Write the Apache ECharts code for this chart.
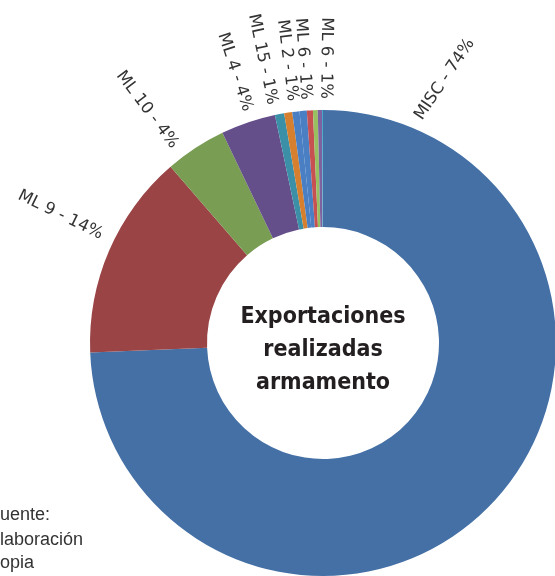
<!DOCTYPE html>
<html>
<head>
<meta charset="utf-8">
<script src="https://cdn.jsdelivr.net/npm/echarts@6/dist/echarts.min.js"></script>
<style>
  html, body { margin: 0; padding: 0; background: #fff; }
  #chart { width: 555px; height: 576px; }
</style>
</head>
<body>
<div id="chart"></div>
<script>
  // export shares by category (percent)
  const names = ['MISC', 'ML 9', 'ML 10', 'ML 4', 'ML 15', 'ML 2', 'ML 6', 'ML 6', 'ML 5', 'ML 8', 'ML 13', 'ML 22'];
  const values = [74.4, 14.3, 4.25, 3.8, 0.64, 0.56, 0.5, 0.5, 0.42, 0.33, 0.29, 0.07];
  const colors = ['#4470a6', '#9a4446', '#789d53', '#654f8a', '#3b90a8', '#d57f2f',
                  '#4a7fc4', '#c75050', '#98c061', '#7e62a0', '#45a8c8', '#b8c2cc'];
  const centerTitle = 'Exportaciones\nrealizadas\narmamento';
  const sourceLines = ['Fuente:', 'Elaboración', 'propia'];
  // characters of each source line that fall off the left edge
  const sourceCut = ['F', 'E', 'pr'];

  // donut geometry
  const cx = 323, cy = 343, rIn = 116, rOut = 233;
  // label placement: angle clockwise from 12 o'clock, anchor radius, text rotation
  // side 'out' = text reads away from the centre, 'in' = towards it
  const labelSpots = [
    { angle: 23, r: 244, rot: 56, side: 'out' },
    { angle: -64, r: 246, side: 'in' },
    { angle: -37, r: 246, side: 'in' },
    { angle: -18, r: 244, side: 'in' },
    { angle: -12, r: 244, side: 'in' },
    { angle: -7.2, r: 244, side: 'in' },
    { angle: -4, r: 244, side: 'in' },
    { angle: 0.6, r: 244, side: 'in' }
  ];

  const srcFont = '18px "Liberation Sans", Arial, sans-serif';
  const ctx = document.createElement('canvas').getContext('2d');
  ctx.font = srcFont;
  const srcY = [515, 540, 563];

  const chart = echarts.init(document.getElementById('chart'));

  const option = {
    animation: false,
    color: colors,
    graphic: [
      {
        type: 'text',
        x: cx, y: 350,
        style: {
          text: centerTitle,
          textAlign: 'center',
          textVerticalAlign: 'middle',
          font: 'bold 23px "DejaVu Sans Condensed", "DejaVu Sans", sans-serif',
          lineHeight: 33,
          fill: '#231f20'
        }
      }
    ].concat(sourceLines.map((t, i) => ({
      type: 'text',
      x: -ctx.measureText(sourceCut[i]).width,
      y: srcY[i],
      style: { text: t, font: srcFont, fill: '#333', textVerticalAlign: 'middle' }
    }))),
    series: [{
      type: 'pie',
      center: [cx, cy],
      radius: [rIn, rOut],
      startAngle: 90,
      clockwise: true,
      avoidLabelOverlap: false,
      itemStyle: { borderWidth: 0 },
      emphasis: { disabled: true },
      label: {
        show: true,
        position: 'outside',
        fontFamily: '"DejaVu Sans", sans-serif',
        fontSize: 16.5,
        color: '#333',
        formatter: p => {
          const pct = Math.round(p.percent);
          return pct >= 1 ? p.name + ' - ' + pct + '%' : '';
        }
      },
      labelLine: { show: false, length: 6, length2: 0 },
      labelLayout: params => {
        const s = labelSpots[params.dataIndex];
        if (!s) return {};
        const a = s.angle * Math.PI / 180;
        const out = s.side === 'out';
        const rot = s.rot != null ? s.rot : (out ? 90 - s.angle : -90 - s.angle);
        return {
          x: cx + s.r * Math.sin(a),
          y: cy - s.r * Math.cos(a),
          rotate: rot,
          align: out ? 'left' : 'right',
          verticalAlign: 'middle'
        };
      },
      data: names.map((n, i) => ({ name: n, value: values[i] }))
    }]
  };

  chart.setOption(option);
</script>
</body>
</html>
